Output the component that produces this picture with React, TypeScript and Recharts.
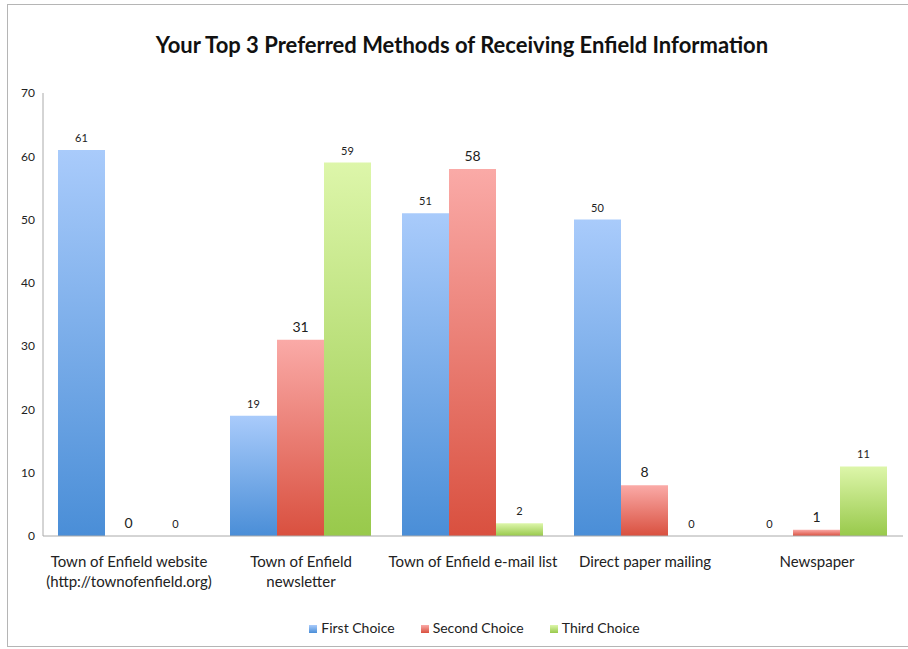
import React from 'react';
import { BarChart, Bar, XAxis, YAxis, Legend, LabelList } from 'recharts';

// categories (line breaks where the original label wraps)
const categories = [
    'Town of Enfield website\n(http://townofenfield.org)',
    'Town of Enfield\nnewsletter',
    'Town of Enfield e-mail list',
    'Direct paper mailing',
    'Newspaper',
];
const firstChoice = [61, 19, 51, 50, 0];
const secondChoice = [0, 31, 58, 8, 1];
const thirdChoice = [0, 59, 2, 0, 11];
const yTicks = [0, 10, 20, 30, 40, 50, 60, 70];

const chartData = categories.map((name, i) => ({
    name,
    first: firstChoice[i],
    second: secondChoice[i],
    third: thirdChoice[i],
}));

const FONT = 'Lato, "Open Sans", sans-serif';

const CategoryTick = (props: any) => {
    const { x, y, payload } = props;
    const lines = String(payload.value).split('\n');
    return (
        <g transform={`translate(${x},${y})`}>
            {lines.map((line: string, i: number) => (
                <text
                    key={i}
                    x={0}
                    y={23 + i * 20}
                    textAnchor="middle"
                    fontSize={15}
                    fontFamily={FONT}
                    fill="#222"
                >
                    {line}
                </text>
            ))}
        </g>
    );
};

const App: React.FC = () => {
    return (
        <div style={{ position: 'absolute', left: 0, top: 0, width: 908, height: 649, background: '#fff', fontFamily: FONT }}>
            <div
                style={{
                    position: 'absolute',
                    left: 7,
                    top: 4,
                    width: 910,
                    height: 643,
                    border: '1px solid #b5b5b5',
                    boxSizing: 'border-box',
                }}
            />
            <div
                style={{
                    position: 'absolute',
                    left: 0,
                    width: 924,
                    top: 31,
                    textAlign: 'center',
                    fontSize: 22,
                    fontWeight: 700,
                    color: '#111',
                }}
            >
                Your Top 3 Preferred Methods of Receiving Enfield Information
            </div>
            <BarChart
                width={908}
                height={649}
                data={chartData}
                margin={{ top: 93, right: 5, left: 0, bottom: 13 }}
                barCategoryGap={15}
                barGap={0}
                style={{ position: 'absolute', left: 0, top: 0 }}
            >
                <defs>
                    <linearGradient id="gBlue" x1="0" y1="0" x2="0" y2="1">
                        <stop offset="0%" stopColor="#a9cbfb" />
                        <stop offset="100%" stopColor="#4a8ed7" />
                    </linearGradient>
                    <linearGradient id="gRed" x1="0" y1="0" x2="0" y2="1">
                        <stop offset="0%" stopColor="#faaaa7" />
                        <stop offset="100%" stopColor="#d9503f" />
                    </linearGradient>
                    <linearGradient id="gGreen" x1="0" y1="0" x2="0" y2="1">
                        <stop offset="0%" stopColor="#ddf6aa" />
                        <stop offset="100%" stopColor="#98c94b" />
                    </linearGradient>
                </defs>
                <XAxis
                    dataKey="name"
                    height={83}
                    interval={0}
                    tickLine={false}
                    axisLine={{ stroke: '#aaa' }}
                    tick={<CategoryTick />}
                />
                <YAxis
                    width={43}
                    domain={[0, 70]}
                    ticks={yTicks}
                    tickLine={false}
                    axisLine={{ stroke: '#aaa' }}
                    tick={{ fontSize: 12, fill: '#222', fontFamily: FONT }}
                />
                <Legend
                    iconType="square"
                    iconSize={8}
                    wrapperStyle={{ fontSize: 14, fontFamily: FONT, paddingLeft: 36 }}
                    formatter={(value: string) => <span style={{ color: '#222', paddingRight: 16 }}>{value}</span>}
                />
                <Bar dataKey="first" name="First Choice" fill="url(#gBlue)" minPointSize={0.01} isAnimationActive={false}>
                    <LabelList dataKey="first" position="top" offset={8} fontSize={11} fill="#222" fontFamily={FONT} />
                </Bar>
                <Bar dataKey="second" name="Second Choice" fill="url(#gRed)" minPointSize={0.01} isAnimationActive={false}>
                    <LabelList dataKey="second" position="top" offset={8} fontSize={14} fill="#222" fontFamily={FONT} />
                </Bar>
                <Bar dataKey="third" name="Third Choice" fill="url(#gGreen)" minPointSize={0.01} isAnimationActive={false}>
                    <LabelList dataKey="third" position="top" offset={8} fontSize={11} fill="#222" fontFamily={FONT} />
                </Bar>
            </BarChart>
        </div>
    );
};

export default App;
